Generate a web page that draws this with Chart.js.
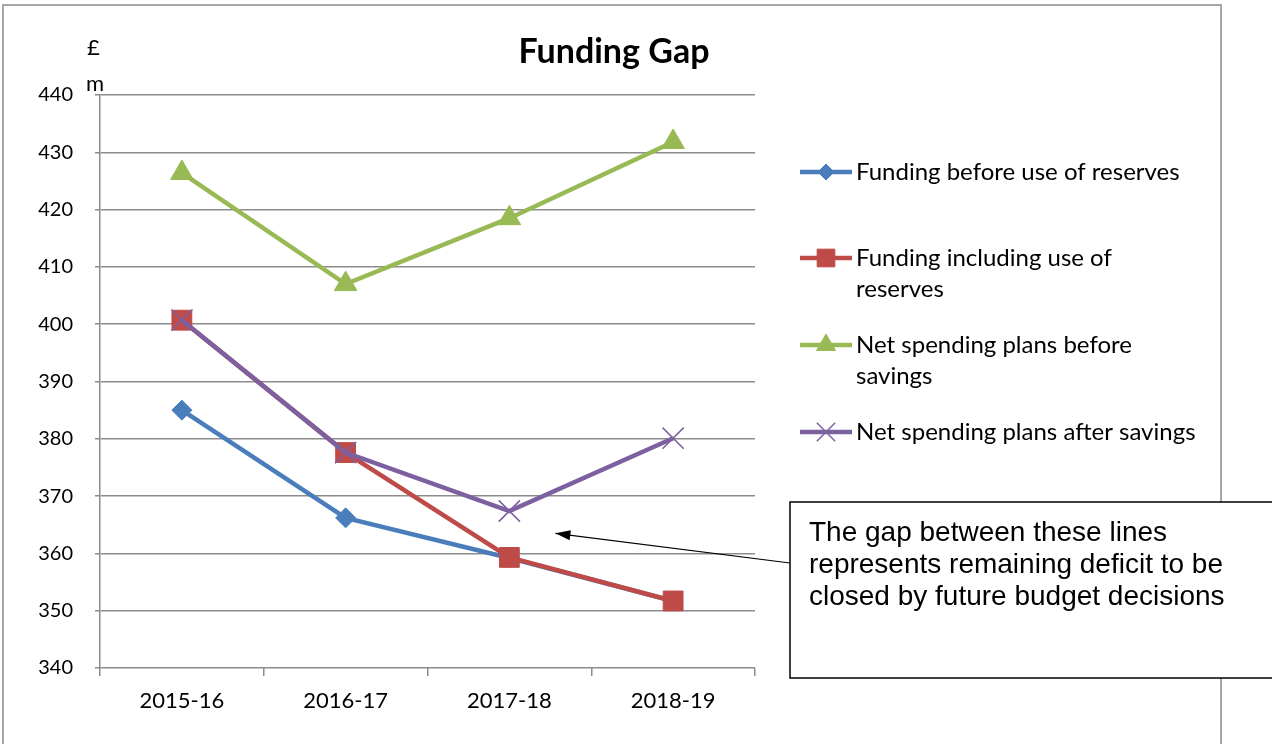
<!DOCTYPE html>
<html>
<head>
<meta charset="utf-8">
<script src="https://cdn.jsdelivr.net/npm/chart.js@4/dist/chart.umd.min.js"></script>
<style>
  html, body { margin: 0; padding: 0; background: #fff; }
  #wrap { position: relative; width: 1272px; height: 744px; }
</style>
</head>
<body>
<div id="wrap"><canvas id="chart" width="1272" height="744"></canvas></div>
<script>
// chart data
const categories = ['2015-16', '2016-17', '2017-18', '2018-19'];
const fundingBeforeReserves = [385.0, 366.2, 359.2, 351.7];
const fundingInclReserves = [400.7, 377.6, 359.3, 351.7];
const spendingBeforeSavings = [426.4, 407.0, 418.5, 431.8];
const spendingAfterSavings = [400.7, 377.6, 367.4, 380.1];
const yMin = 340, yMax = 440, yStep = 10;

const seriesNames = [
  'Funding before use of reserves',
  'Funding including use of reserves',
  'Net spending plans before savings',
  'Net spending plans after savings'
];
const legendLines = [
  ['Funding before use of reserves'],
  ['Funding including use of', 'reserves'],
  ['Net spending plans before', 'savings'],
  ['Net spending plans after savings']
];
const noteLines = [
  'The gap between these lines',
  'represents remaining deficit to be',
  'closed by future budget decisions'
];

const uiFont = 'Lato, "Open Sans", sans-serif';

// draws frame, title, unit label, legend and the note box with arrow
const extras = {
  id: 'extras',
  afterDraw(chart) {
    const ctx = chart.ctx;
    const xs = chart.scales.x, ys = chart.scales.y;
    ctx.save();

    // outer frame
    ctx.strokeStyle = '#8c8c8c';
    ctx.lineWidth = 1.5;
    ctx.beginPath();
    ctx.moveTo(3, 760); ctx.lineTo(3, 5); ctx.lineTo(1221, 5); ctx.lineTo(1221, 760);
    ctx.stroke();

    // title
    ctx.fillStyle = '#000';
    ctx.textAlign = 'center';
    ctx.textBaseline = 'middle';
    ctx.font = 'bold 34px ' + uiFont;
    ctx.fillText('Funding Gap', 614, 52);

    // unit label
    ctx.textAlign = 'left';
    ctx.font = '22px ' + uiFont;
    ctx.fillText('£', 87, 48);
    ctx.fillText('m', 86, 84);

    // legend
    const rows = [172, 258, 345, 432];
    const legendSize = [8, 12.5, 11, 13];
    chart.data.datasets.forEach((ds, i) => {
      const y = rows[i];
      ctx.strokeStyle = ds.borderColor;
      ctx.lineWidth = 4.5;
      ctx.beginPath();
      ctx.moveTo(800, y); ctx.lineTo(852, y);
      ctx.stroke();
      ctx.fillStyle = ds.pointBackgroundColor;
      ctx.strokeStyle = ds.pointBorderColor;
      ctx.lineWidth = ds.pointBorderWidth;
      Chart.helpers.drawPoint(ctx, {
        pointStyle: ds.pointStyle,
        radius: legendSize[i],
        borderWidth: ds.pointBorderWidth,
        rotation: 0
      }, 826, y);
      ctx.fillStyle = '#000';
      ctx.font = '24px ' + uiFont;
      ctx.textAlign = 'left';
      ctx.textBaseline = 'middle';
      legendLines[i].forEach((t, k) => ctx.fillText(t, 856, y + k * 31));
    });

    // note box
    ctx.fillStyle = '#fff';
    ctx.fillRect(790, 502, 500, 176);
    ctx.strokeStyle = '#000';
    ctx.lineWidth = 1.5;
    ctx.strokeRect(790, 502, 500, 176);
    ctx.fillStyle = '#000';
    ctx.font = '28px "Liberation Sans", Arial, sans-serif';
    ctx.textBaseline = 'alphabetic';
    noteLines.forEach((t, k) => ctx.fillText(t, 809, 541 + k * 32));

    // arrow from box to the gap
    const tx = xs.getPixelForValue(2) + 46, ty = ys.getPixelForValue(363.5);
    const fx = 790, fy = 563;
    ctx.beginPath();
    ctx.moveTo(fx, fy); ctx.lineTo(tx, ty);
    ctx.lineWidth = 1.2;
    ctx.stroke();
    const ang = Math.atan2(ty - fy, tx - fx);
    const L = 15, W = 5;
    ctx.beginPath();
    ctx.moveTo(tx, ty);
    ctx.lineTo(tx - L * Math.cos(ang) + W * Math.sin(ang), ty - L * Math.sin(ang) - W * Math.cos(ang));
    ctx.lineTo(tx - L * Math.cos(ang) - W * Math.sin(ang), ty - L * Math.sin(ang) + W * Math.cos(ang));
    ctx.closePath();
    ctx.fill();

    ctx.restore();
  }
};

new Chart(document.getElementById('chart').getContext('2d'), {
  type: 'line',
  data: {
    labels: categories,
    datasets: [
      {
        label: seriesNames[0], data: fundingBeforeReserves, order: 4,
        borderColor: '#4a7ebb', backgroundColor: '#4a7ebb',
        pointStyle: 'rectRot', pointRadius: 10, pointBackgroundColor: '#4a7ebb',
        pointBorderColor: '#4a7ebb', pointBorderWidth: 1
      },
      {
        label: seriesNames[1], data: fundingInclReserves, order: 3,
        borderColor: '#be4b48', backgroundColor: '#be4b48',
        pointStyle: 'rect', pointRadius: 14, pointBackgroundColor: '#be4b48',
        pointBorderColor: '#be4b48', pointBorderWidth: 1
      },
      {
        label: seriesNames[2], data: spendingBeforeSavings, order: 2,
        borderColor: '#98b954', backgroundColor: '#98b954',
        pointStyle: 'triangle', pointRadius: 13, pointBackgroundColor: '#98b954',
        pointBorderColor: '#98b954', pointBorderWidth: 1
      },
      {
        label: seriesNames[3], data: spendingAfterSavings, order: 1,
        borderColor: '#7d60a0', backgroundColor: '#7d60a0',
        pointStyle: 'crossRot', pointRadius: 15, pointBackgroundColor: '#7d60a0',
        pointBorderColor: '#7d60a0', pointBorderWidth: 1.5
      }
    ]
  },
  options: {
    responsive: false,
    animation: false,
    elements: { line: { borderWidth: 4.5, tension: 0 } },
    layout: { padding: { top: 95, right: 517, left: 0, bottom: 0 } },
    plugins: {
      legend: { display: false },
      title: { display: false },
      tooltip: { enabled: false }
    },
    scales: {
      x: {
        offset: true,
        afterFit(s) { s.height = 76; },
        grid: { drawOnChartArea: false, offset: true, tickLength: 8, color: '#8c8c8c', lineWidth: 1.5 },
        border: { display: false },
        ticks: { color: '#000', font: { family: uiFont, size: 22 }, padding: 12 }
      },
      y: {
        min: yMin, max: yMax,
        afterFit(s) { s.width = 100; },
        grid: { color: '#8c8c8c', lineWidth: 1.5, tickLength: 5 },
        border: { color: '#8c8c8c', width: 1.5 },
        ticks: { stepSize: yStep, color: '#000', font: { family: uiFont, size: 20 }, padding: 22 }
      }
    }
  },
  plugins: [extras]
});
</script>
</body>
</html>
